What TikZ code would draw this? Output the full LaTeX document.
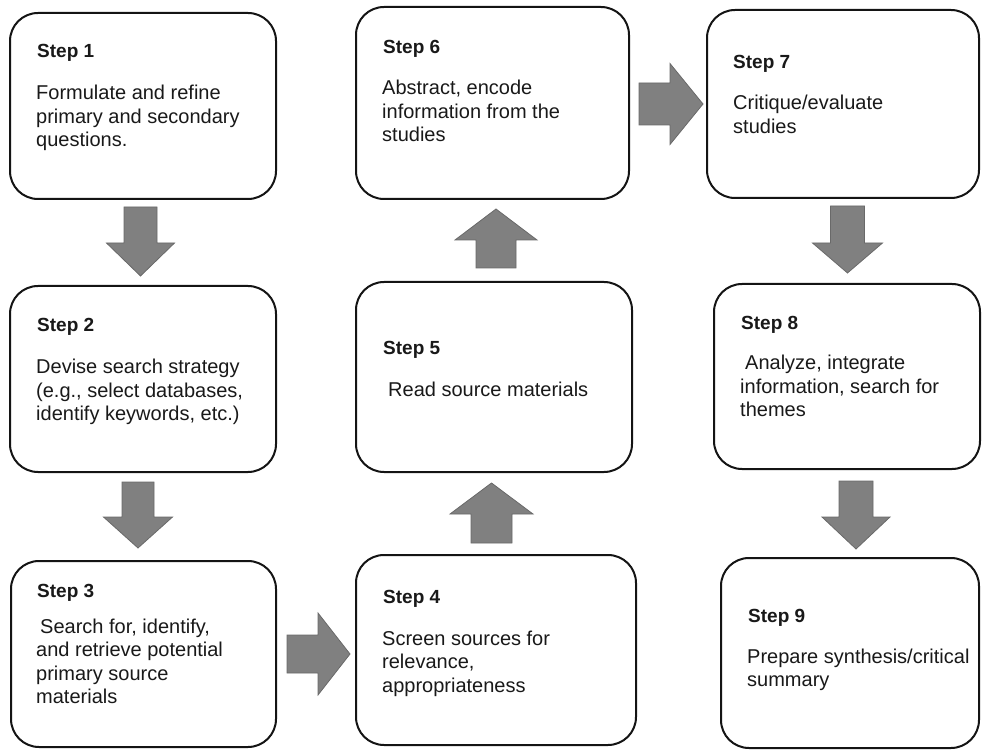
\documentclass[tikz,border=0pt]{standalone}
\usepackage{fontspec}
\setmainfont{Liberation Sans}
\usetikzlibrary{calc}
\definecolor{arrowgray}{RGB}{128,128,128}
\definecolor{arrowedge}{RGB}{105,105,105}
\definecolor{boxline}{RGB}{20,20,20}
\definecolor{txt}{RGB}{25,25,25}
\tikzset{
  stepbox/.style={draw=boxline, line width=2pt, rounded corners=28pt, inner sep=0pt, outer sep=0pt, anchor=north west, fill=white},
  steplabel/.style={anchor=base west, inner sep=0pt, text=txt, font=\fontsize{19}{23}\selectfont\bfseries},
  stepbody/.style={anchor=base west, inner sep=0pt, text=txt, font=\fontsize{20}{23.5}\selectfont},
  arrowfill/.style={fill=arrowgray, draw=arrowedge, line width=0.8pt},
  pics/blk/.style n args={4}{code={
    \path[arrowfill] (0,{-#2}) -- ({#1-#4},{-#2}) -- ({#1-#4},{-#3}) -- (#1,0) -- ({#1-#4},#3) -- ({#1-#4},#2) -- (0,#2) -- cycle;
  }}
}
\newcommand{\bodytext}[1]{\parbox[t]{250pt}{\raggedright #1}}
\begin{document}
\begin{tikzpicture}[x=1pt, y=-1pt]
\useasboundingbox (0,0) rectangle (986,751);
% boxes
\node[stepbox, minimum width=266pt, minimum height=186pt] (s1) at (10,13) {};
\node[stepbox, minimum width=266pt, minimum height=186pt] (s2) at (10,286) {};
\node[stepbox, minimum width=265pt, minimum height=186pt] (s3) at (11,561) {};
\node[stepbox, minimum width=280pt, minimum height=190pt] (s4) at (356,555) {};
\node[stepbox, minimum width=276pt, minimum height=190pt] (s5) at (356,282) {};
\node[stepbox, minimum width=273pt, minimum height=192pt] (s6) at (356,7) {};
\node[stepbox, minimum width=272pt, minimum height=188pt] (s7) at (707,10) {};
\node[stepbox, minimum width=266pt, minimum height=185pt] (s8) at (714,284) {};
\node[stepbox, minimum width=258pt, minimum height=190pt] (s9) at (721,558) {};
% labels
\node[steplabel] (l1) at (37,58) {Step 1};
\node[stepbody] (b1) at (36,100) {\bodytext{Formulate and refine\\primary and secondary\\questions.}};
\node[steplabel] (l2) at (37,332) {Step 2};
\node[stepbody] (b2) at (36,374) {\bodytext{Devise search strategy\\(e.g., select databases,\\identify keywords, etc.)}};
\node[steplabel] (l3) at (37,597) {Step 3};
\node[stepbody] (b3) at (36,633) {\bodytext{\hspace*{4pt}Search for, identify,\\and retrieve potential\\primary source\\materials}};
\node[steplabel] (l4) at (383,603) {Step 4};
\node[stepbody] (b4) at (382,645) {\bodytext{Screen sources for\\relevance,\\appropriateness}};
\node[steplabel] (l5) at (383,355) {Step 5};
\node[stepbody] (b5) at (383,397) {\bodytext{\hspace*{5pt}Read source materials}};
\node[steplabel] (l6) at (383,54) {Step 6};
\node[stepbody] (b6) at (382,95) {\bodytext{Abstract, encode\\information from the\\studies}};
\node[steplabel] (l7) at (733,69) {Step 7};
\node[stepbody] (b7) at (733,110) {\bodytext{Critique/evaluate\\studies}};
\node[steplabel] (l8) at (741,330) {Step 8};
\node[stepbody] (b8) at (740,370) {\bodytext{\hspace*{5pt}Analyze, integrate\\information, search for\\themes}};
\node[steplabel] (l9) at (748,622) {Step 9};
\node[stepbody] (b9) at (747,663) {\bodytext{Prepare synthesis/critical\\summary}};
% block arrows
\pic[rotate=-90] (a12) at ($(s1.south)+(-2.5,8)$) {blk={69}{16.5}{34}{33}};
\pic[rotate=-90] (a23) at ($(s2.south)+(-5,10)$) {blk={66}{16}{34.5}{31}};
\pic (a34) at ($(s3.east)+(11,0)$) {blk={63}{19}{41}{32}};
\pic[rotate=90] (a45) at ($(s4.north)+(-4.5,-12)$) {blk={60}{20.5}{41.5}{31}};
\pic[rotate=90] (a56) at ($(s5.north)+(2,-14)$) {blk={59}{20}{41}{31}};
\pic (a67) at ($(s6.east)+(10,1)$) {blk={64}{21}{40.5}{33}};
\pic[rotate=-90] (a78) at ($(s7.south)+(4.5,8)$) {blk={67}{17}{35}{30}};
\pic[rotate=-90] (a89) at ($(s8.south)+(9,12)$) {blk={68}{17}{34}{32}};
\end{tikzpicture}
\end{document}
